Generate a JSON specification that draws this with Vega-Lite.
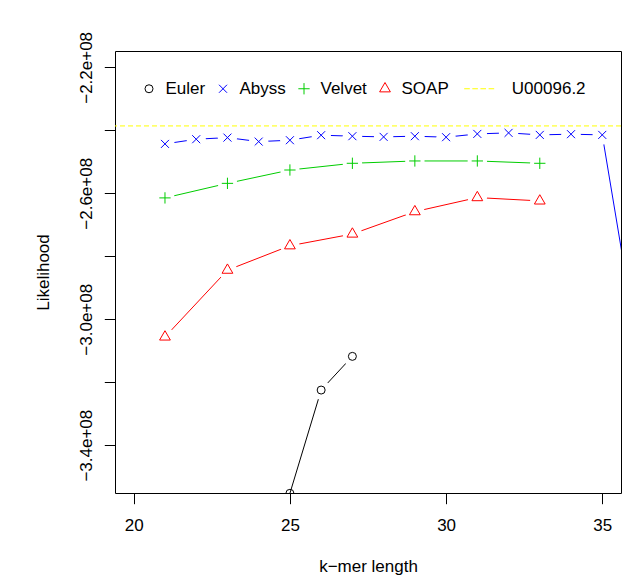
{
  "$schema": "https://vega.github.io/schema/vega-lite/v6.json",
  "width": 506,
  "height": 442,
  "autosize": {"type": "none"},
  "padding": {"left": 115, "top": 51, "right": 15, "bottom": 84},
  "background": "white",
  "config": {
    "font": "Liberation Sans",
    "view": {"stroke": "black", "strokeWidth": 1},
    "axis": {
      "grid": false,
      "domain": false,
      "tickColor": "black",
      "tickSize": 10.7,
      "tickWidth": 1,
      "labelFont": "Liberation Sans",
      "labelFontSize": 17,
      "labelColor": "black",
      "labelOverlap": false,
      "labelFlush": false,
      "titleFont": "Liberation Sans",
      "titleFontSize": 17,
      "titleFontWeight": "normal",
      "titleColor": "black"
    },
    "legend": {
      "labelFont": "Liberation Sans",
      "labelFontSize": 17,
      "labelColor": "black",
      "labelOffset": 8,
      "columnPadding": 9,
      "symbolSize": 64,
      "symbolStrokeWidth": 1,
      "padding": 0
    }
  },
  "data": {
    "values": [
      {"series": "Euler", "k": 25, "L": -355300000},
      {"series": "Euler", "k": 26, "L": -322500000},
      {"series": "Euler", "k": 27, "L": -311800000},
      {"series": "Abyss", "k": 21, "L": -244310000},
      {"series": "Abyss", "k": 22, "L": -242820000},
      {"series": "Abyss", "k": 23, "L": -242310000},
      {"series": "Abyss", "k": 24, "L": -243580000},
      {"series": "Abyss", "k": 25, "L": -243140000},
      {"series": "Abyss", "k": 26, "L": -241540000},
      {"series": "Abyss", "k": 27, "L": -241860000},
      {"series": "Abyss", "k": 28, "L": -242080000},
      {"series": "Abyss", "k": 29, "L": -241860000},
      {"series": "Abyss", "k": 30, "L": -242180000},
      {"series": "Abyss", "k": 31, "L": -241130000},
      {"series": "Abyss", "k": 32, "L": -240810000},
      {"series": "Abyss", "k": 33, "L": -241450000},
      {"series": "Abyss", "k": 34, "L": -241220000},
      {"series": "Abyss", "k": 35, "L": -241450000},
      {"series": "Abyss", "k": 36, "L": -301000000},
      {"series": "Velvet", "k": 21, "L": -261460000},
      {"series": "Velvet", "k": 23, "L": -256840000},
      {"series": "Velvet", "k": 25, "L": -252600000},
      {"series": "Velvet", "k": 27, "L": -250470000},
      {"series": "Velvet", "k": 29, "L": -249730000},
      {"series": "Velvet", "k": 31, "L": -249730000},
      {"series": "Velvet", "k": 33, "L": -250470000},
      {"series": "SOAP", "k": 21, "L": -305630000},
      {"series": "SOAP", "k": 23, "L": -284410000},
      {"series": "SOAP", "k": 25, "L": -276660000},
      {"series": "SOAP", "k": 27, "L": -272930000},
      {"series": "SOAP", "k": 29, "L": -265830000},
      {"series": "SOAP", "k": 31, "L": -261360000},
      {"series": "SOAP", "k": 33, "L": -262420000},
      {"series": "U00096.2", "L": -238600000}
    ]
  },
  "layer": [
    {
      "transform": [{"filter": "datum.series != 'U00096.2'"}],
      "mark": {"type": "line", "strokeWidth": 1, "clip": true},
      "encoding": {
        "x": {"field": "k", "type": "quantitative", "scale": {"domain": [19.4, 35.6], "nice": false, "zero": false},
              "axis": {"values": [20, 25, 30, 35], "labelPadding": 13.8, "title": "k\u2212mer length", "titlePadding": 38, "titleBaseline": "alphabetic"}},
        "y": {"field": "L", "type": "quantitative", "scale": {"domain": [-355200000, -214800000], "nice": false, "zero": false},
              "axis": {"values": [-340000000, -320000000, -300000000, -280000000, -260000000, -240000000, -220000000],
                       "labelExpr": "datum.value == -220000000 ? '\u22122.2e+08' : datum.value == -260000000 ? '\u22122.6e+08' : datum.value == -300000000 ? '\u22123.0e+08' : datum.value == -340000000 ? '\u22123.4e+08' : ''",
                       "labelAngle": -90, "labelAlign": "center", "labelBaseline": "alphabetic", "labelPadding": 13.3,
                       "title": "Likelihood", "titlePadding": 29, "titleBaseline": "alphabetic"}},
        "color": {"field": "series", "type": "nominal",
                  "scale": {"domain": ["Euler", "Abyss", "Velvet", "SOAP", "U00096.2"], "range": ["#000000", "#0000FF", "#00CD00", "#FF0000", "#FFFF00"]},
                  "legend": {"orient": "none", "legendX": 25.5, "legendY": 29, "direction": "horizontal", "title": null,
                             "labelExpr": "datum.label == 'U00096.2' ? '\u200b\u00a0\u00a0\u00a0\u00a0\u00a0\u00a0U00096.2' : datum.label"}}
      }
    },
    {
      "transform": [{"filter": "datum.series != 'U00096.2' && datum.k <= 35.6 && datum.L >= -355200000"}],
      "mark": {"type": "point", "filled": true, "color": "white", "opacity": 1, "size": 380, "shape": "circle", "strokeWidth": 0, "clip": true},
      "encoding": {
        "x": {"field": "k", "type": "quantitative"},
        "y": {"field": "L", "type": "quantitative"}
      }
    },
    {
      "transform": [{"filter": "datum.series != 'U00096.2'"}],
      "mark": {"type": "point", "filled": false, "size": 64, "strokeWidth": 1, "opacity": 1, "clip": true},
      "encoding": {
        "x": {"field": "k", "type": "quantitative"},
        "y": {"field": "L", "type": "quantitative"},
        "color": {"field": "series", "type": "nominal"},
        "shape": {"field": "series", "type": "nominal",
                  "scale": {"domain": ["Euler", "Abyss", "Velvet", "SOAP", "U00096.2"],
                            "range": ["circle", "M-1,-1L1,1M-1,1L1,-1", "M-1.414,0H1.414M0,-1.414V1.414", "M0,-1.555L1.347,0.778L-1.347,0.778Z", "M-0.7,0H0.7M1.33,0H2.73M3.36,0H4.76M5.4,0H6.8"]},
                  "legend": {"orient": "none", "legendX": 25.5, "legendY": 29, "direction": "horizontal", "title": null,
                             "labelExpr": "datum.label == 'U00096.2' ? '\u200b\u00a0\u00a0\u00a0\u00a0\u00a0\u00a0U00096.2' : datum.label"}}
      }
    },
    {
      "transform": [{"filter": "datum.series == 'U00096.2'"}],
      "mark": {"type": "rule", "strokeWidth": 1, "strokeDash": [5, 3]},
      "encoding": {
        "y": {"field": "L", "type": "quantitative"},
        "color": {"field": "series", "type": "nominal"}
      }
    }
  ]
}
